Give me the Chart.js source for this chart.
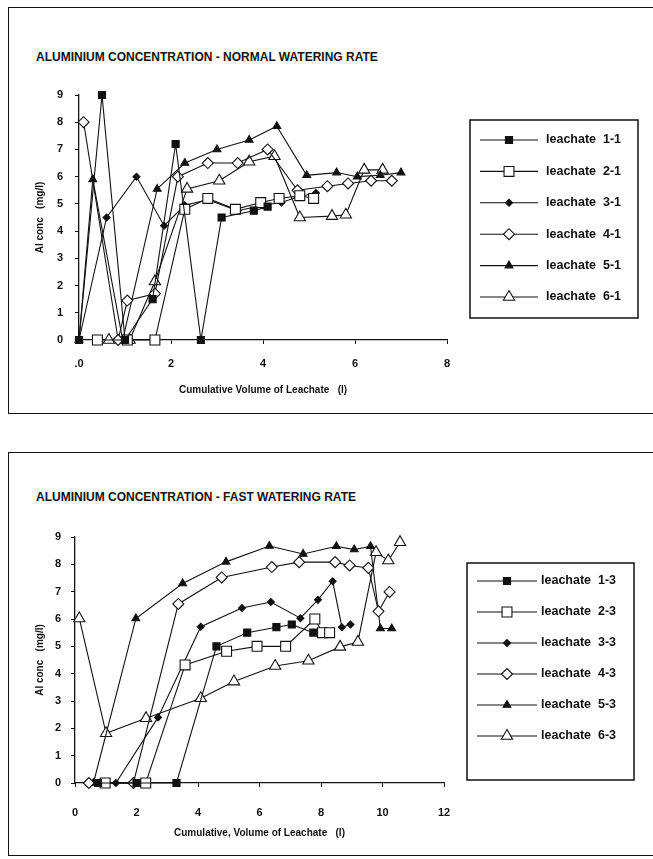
<!DOCTYPE html>
<html lang="en">
<head>
<meta charset="UTF-8">
<title>Aluminium concentration</title>
<script src="https://cdn.jsdelivr.net/npm/chart.js@4.4.1/dist/chart.umd.min.js"></script>
<style>
  body { margin: 0; background: #fff; width: 653px; height: 859px; position: relative; overflow: hidden; font-family: "Liberation Sans", Arial, sans-serif; }
  .box { position: absolute; left: 8px; width: 660px; border: 1.5px solid #111; border-right: none; }
  #box1 { top: 7px; height: 405px; }
  #box2 { top: 452px; height: 402px; }
  .title { position: absolute; left: 36px; font-weight: bold; font-size: 12px; color: #111; white-space: nowrap; }
  canvas { position: absolute; left: 0; }
</style>
</head>
<body>
<div class="box" id="box1"></div>
<div class="box" id="box2"></div>
<div class="title" style="top:50px">ALUMINIUM CONCENTRATION - NORMAL WATERING RATE</div>
<div class="title" style="top:490px">ALUMINIUM CONCENTRATION - FAST WATERING RATE</div>
<canvas id="normal" width="653" height="430" style="top:0"></canvas>
<canvas id="fast" width="653" height="419" style="top:440px"></canvas>
<script>
// ---- normal watering rate ----
const n11x = [0, 0.5, 1.0, 1.6, 2.1, 2.65, 3.1, 3.8, 4.1];
const n11y = [0, 9.0, 0, 1.5, 7.2, 0, 4.5, 4.75, 4.9];
const n21x = [0.4, 1.05, 1.65, 2.3, 2.8, 3.4, 3.95, 4.35, 4.8, 5.1];
const n21y = [0, 0, 0, 4.8, 5.2, 4.8, 5.05, 5.2, 5.3, 5.2];
const n31x = [0, 0.6, 1.25, 1.85, 2.3, 2.8, 3.45, 4.0, 4.4, 4.75, 5.15];
const n31y = [0, 4.5, 6.0, 4.2, 4.95, 5.15, 4.75, 4.95, 5.05, 5.25, 5.4];
const n41x = [0.1, 0.85, 1.05, 1.65, 2.15, 2.8, 3.45, 4.1, 4.75, 5.4, 5.85, 6.35, 6.8];
const n41y = [8.0, 0, 1.45, 1.7, 6.0, 6.5, 6.5, 7.0, 5.5, 5.65, 5.75, 5.85, 5.85];
const n51x = [0, 0.3, 0.95, 1.7, 2.3, 3.0, 3.7, 4.3, 4.95, 5.6, 6.05, 6.55, 7.0];
const n51y = [0, 5.9, 0, 5.55, 6.5, 7.0, 7.35, 7.85, 6.05, 6.15, 6.0, 6.05, 6.15];
const n61x = [0.65, 1.1, 1.65, 2.35, 3.05, 3.7, 4.25, 4.8, 5.5, 5.8, 6.2, 6.6];
const n61y = [0, 0, 2.15, 5.55, 5.85, 6.55, 6.75, 4.5, 4.55, 4.6, 6.25, 6.25];
const normalLabels = ['leachate  1-1', 'leachate  2-1', 'leachate  3-1', 'leachate  4-1', 'leachate  5-1', 'leachate  6-1'];
const normalTickValues = [0, 2, 4, 6, 8];
const normalTickText = ['.0', '2', '4', '6', '8'];

// ---- fast watering rate ----
const f13x = [0.75, 2.0, 3.3, 4.6, 5.6, 6.55, 7.05, 7.75];
const f13y = [0, 0, 0, 5.0, 5.5, 5.7, 5.8, 5.5];
const f23x = [0.98, 2.3, 3.58, 4.93, 5.92, 6.85, 7.8, 8.05, 8.28];
const f23y = [0, 0, 4.32, 4.82, 5.0, 5.0, 6.0, 5.5, 5.5];
const f33x = [1.33, 2.7, 4.09, 5.43, 6.37, 7.33, 7.9, 8.38, 8.68, 8.96];
const f33y = [0, 2.4, 5.72, 6.4, 6.62, 6.03, 6.7, 7.38, 5.7, 5.8];
const f43x = [0.45, 1.9, 3.36, 4.77, 6.4, 7.29, 8.46, 8.93, 9.54, 9.87, 10.23];
const f43y = [0, 0, 6.55, 7.52, 7.9, 8.08, 8.08, 7.96, 7.87, 6.28, 6.99];
const f53x = [0.6, 1.98, 3.5, 4.91, 6.32, 7.42, 8.5, 9.08, 9.61, 9.93, 10.3];
const f53y = [0, 6.02, 7.3, 8.09, 8.67, 8.38, 8.66, 8.54, 8.66, 5.65, 5.65];
const f63x = [0.14, 1.01, 2.31, 4.09, 5.17, 6.51, 7.59, 8.62, 9.2, 9.79, 10.19, 10.57];
const f63y = [6.02, 1.82, 2.37, 3.1, 3.71, 4.28, 4.47, 4.98, 5.16, 8.44, 8.14, 8.81];
const fastLabels = ['leachate  1-3', 'leachate  2-3', 'leachate  3-3', 'leachate  4-3', 'leachate  5-3', 'leachate  6-3'];
const fastTickValues = [0, 2, 4, 6, 8, 10, 12];
const fastTickText = ['0', '2', '4', '6', '8', '10', '12'];

const yTickValues = [0, 1, 2, 3, 4, 5, 6, 7, 8, 9];

const INK = '#111';
const FONT = '"Liberation Sans", Arial, sans-serif';

// marker per leachate (same order in both charts)
const markers = [
  { shape: 'rect', r: 5, fill: INK },
  { shape: 'rect', r: 7, fill: '#fff' },
  { shape: 'rectRot', r: 3.5, fill: INK },
  { shape: 'rectRot', r: 5.5, fill: '#fff' },
  { shape: 'triangle', r: 4.5, fill: INK },
  { shape: 'triangle', r: 6.5, fill: '#fff' }
];

function series(label, xs, ys, m) {
  return {
    label: label,
    data: xs.map((x, i) => ({ x: x, y: ys[i] })),
    showLine: true,
    borderColor: INK,
    borderWidth: 1.1,
    pointStyle: m.shape,
    pointRadius: m.r,
    pointHoverRadius: m.r,
    pointBackgroundColor: m.fill,
    pointBorderColor: INK,
    pointBorderWidth: 1.1,
    clip: false
  };
}

// boxed legend drawn on the canvas, like the original
const boxLegend = {
  id: 'boxLegend',
  afterDraw(chart, args, o) {
    const ctx = chart.ctx;
    ctx.save();
    ctx.strokeStyle = INK;
    ctx.lineWidth = 1.5;
    ctx.strokeRect(o.left, o.top, o.width, o.height);
    ctx.font = 'bold 12.5px ' + FONT;
    ctx.textBaseline = 'middle';
    chart.data.datasets.forEach((ds, i) => {
      const y = o.firstY + i * o.step;
      ctx.strokeStyle = INK;
      ctx.lineWidth = 1.1;
      ctx.beginPath();
      ctx.moveTo(o.x0, y);
      ctx.lineTo(o.x1, y);
      ctx.stroke();
      ctx.fillStyle = ds.pointBackgroundColor;
      Chart.helpers.drawPoint(ctx, { pointStyle: ds.pointStyle, radius: ds.pointRadius, borderWidth: 1.1, rotation: 0 }, (o.x0 + o.x1) / 2, y);
      ctx.fillStyle = INK;
      ctx.fillText(ds.label, o.textX, y);
    });
    ctx.restore();
  }
};

function makeChart(id, datasets, c) {
  return new Chart(document.getElementById(id), {
    type: 'scatter',
    data: { datasets: datasets },
    plugins: [boxLegend],
    options: {
      responsive: false,
      animation: false,
      events: [],
      layout: { padding: c.padding },
      plugins: {
        legend: { display: false },
        tooltip: { enabled: false },
        boxLegend: c.legend
      },
      scales: {
        x: {
          type: 'linear', min: 0, max: c.xMax,
          afterBuildTicks: s => { s.ticks = c.xTickValues.map(v => ({ value: v })); },
          afterFit: s => { s.height = 60; },
          ticks: {
            padding: c.xTickPad, color: INK, maxRotation: 0,
            font: { family: FONT, size: 11, weight: 'bold' },
            callback: v => c.xTickText[c.xTickValues.indexOf(v)]
          },
          grid: { drawOnChartArea: false, drawTicks: true, tickLength: 4, color: INK, tickColor: INK },
          border: { display: true, color: INK, width: 1.3 },
          title: {
            display: true, text: c.xTitle, color: INK,
            font: { family: FONT, size: 10, weight: 'bold' },
            padding: { top: 0, bottom: 4 }
          }
        },
        y: {
          type: 'linear', min: 0, max: 9,
          afterBuildTicks: s => { s.ticks = yTickValues.map(v => ({ value: v })); },
          afterFit: s => { s.width = 50; },
          ticks: {
            padding: c.yTickPad, color: INK,
            font: { family: FONT, size: 11, weight: 'bold' }
          },
          grid: { drawOnChartArea: false, drawTicks: true, tickLength: 4, color: INK, tickColor: INK },
          border: { display: true, color: INK, width: 1.3 },
          title: {
            display: true, text: 'Al conc   (mg/l)', color: INK,
            font: { family: FONT, size: 10, weight: 'bold' },
            padding: { top: c.yTitlePad, bottom: 0 }
          }
        }
      }
    }
  });
}

const normalSets = [
  series(normalLabels[0], n11x, n11y, markers[0]),
  series(normalLabels[1], n21x, n21y, markers[1]),
  series(normalLabels[2], n31x, n31y, markers[2]),
  series(normalLabels[3], n41x, n41y, markers[3]),
  series(normalLabels[4], n51x, n51y, markers[4]),
  series(normalLabels[5], n61x, n61y, markers[5])
];
const fastSets = [
  series(fastLabels[0], f13x, f13y, markers[0]),
  series(fastLabels[1], f23x, f23y, markers[1]),
  series(fastLabels[2], f33x, f33y, markers[2]),
  series(fastLabels[3], f43x, f43y, markers[3]),
  series(fastLabels[4], f53x, f53y, markers[4]),
  series(fastLabels[5], f63x, f63y, markers[5])
];

makeChart('normal', normalSets, {
  padding: { left: 29, top: 95, right: 206, bottom: 30 },
  xMax: 8, xTickValues: normalTickValues, xTickText: normalTickText,
  xTickPad: 13, yTickPad: 12, yTitlePad: 5,
  xTitle: 'Cumulative Volume of Leachate   (l)',
  legend: { left: 470, top: 120, width: 168, height: 198, firstY: 140, step: 31.4, x0: 480, x1: 538, textX: 546 }
});

makeChart('fast', fastSets, {
  padding: { left: 25, top: 97, right: 209, bottom: 16 },
  xMax: 12, xTickValues: fastTickValues, xTickText: fastTickText,
  xTickPad: 19, yTickPad: 10, yTitlePad: 9,
  xTitle: 'Cumulative, Volume of Leachate   (l)',
  legend: { left: 467, top: 123, width: 167, height: 217, firstY: 141, step: 31, x0: 477, x1: 537, textX: 541 }
});
</script>
</body>
</html>
